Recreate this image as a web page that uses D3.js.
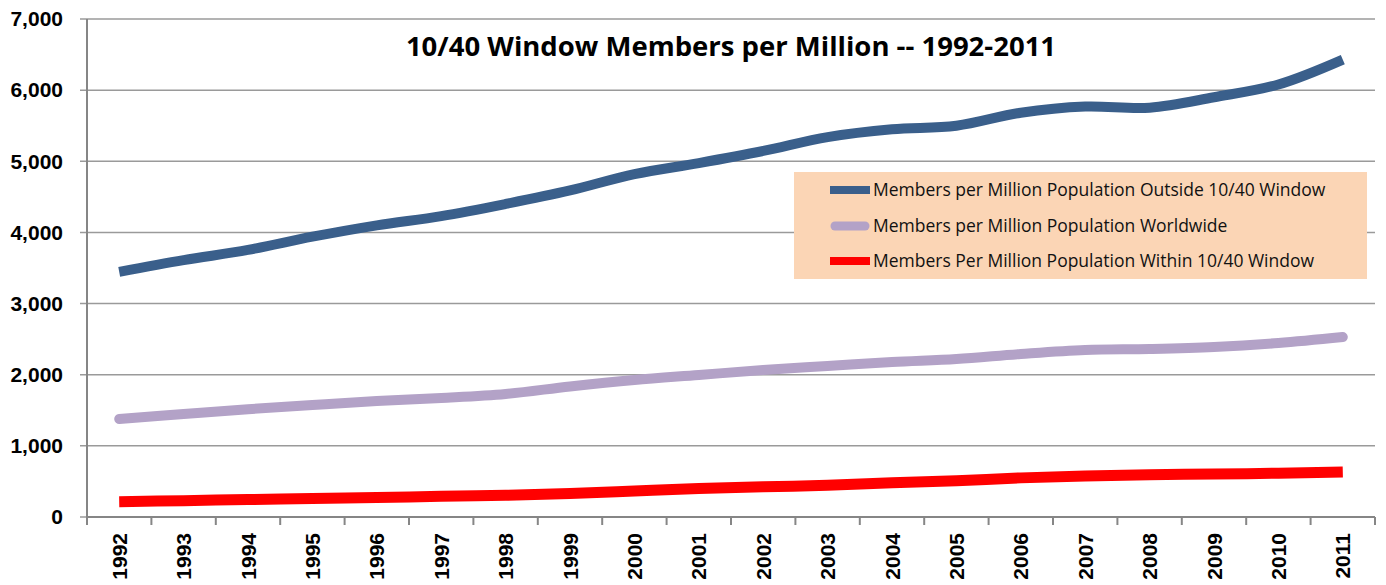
<!DOCTYPE html>
<html><head><meta charset="utf-8">
<script src="https://cdn.jsdelivr.net/npm/d3@7"></script>
<style>body{margin:0;background:#fff}svg{display:block}</style>
</head><body>
<svg id="c" width="1386" height="585"></svg>
<script>
const years = ["1992","1993","1994","1995","1996","1997","1998","1999","2000","2001","2002","2003","2004","2005","2006","2007","2008","2009","2010","2011"];
const outside = [3446,3610,3755,3940,4100,4230,4400,4590,4820,4975,5145,5340,5450,5500,5683,5770,5754,5900,6080,6430];
const worldwide = [1378,1448,1515,1574,1630,1673,1729,1835,1926,1996,2066,2122,2179,2221,2291,2347,2362,2390,2446,2530];
const within = [215,230,245,260,275,290,305,330,365,400,425,445,480,510,550,575,595,605,615,633];
const yTicks = [0,1000,2000,3000,4000,5000,6000,7000];
const seriesNames = ["Members per Million Population Outside 10/40 Window","Members per Million Population Worldwide","Members Per Million Population Within 10/40 Window"];

const svg = d3.select("#c");
const L=87,R=1375,T=19,B=517;
const x = d3.scaleBand().domain(years).range([L,R]);
const y = d3.scaleLinear().domain([0,7000]).range([B,T]);

// gridlines
svg.append("g").selectAll("line").data(yTicks).join("line")
 .attr("x1",L-7).attr("x2",R).attr("y1",d=>y(d)).attr("y2",d=>y(d))
 .attr("stroke","#9a9a9a").attr("stroke-width",1.5);

// y axis
const ya = svg.append("g").attr("transform",`translate(${L},0)`).call(d3.axisLeft(y).tickValues(yTicks).tickSize(0).tickPadding(24).tickFormat(d3.format(",")));
ya.select(".domain").remove();
ya.selectAll("text").attr("font-family","Liberation Sans, Arial, sans-serif").attr("font-weight","bold").attr("font-size",21).attr("fill","#000");
svg.append("line").attr("x1",L).attr("x2",L).attr("y1",T).attr("y2",B+8).attr("stroke","#868686").attr("stroke-width",2);

// x axis
svg.append("line").attr("x1",L).attr("x2",R).attr("y1",B).attr("y2",B).attr("stroke","#868686").attr("stroke-width",2);
const edges = years.map(d=>x(d)).concat([R]);
svg.append("g").selectAll("line").data(edges).join("line")
 .attr("x1",d=>d).attr("x2",d=>d).attr("y1",B).attr("y2",B+8).attr("stroke","#868686").attr("stroke-width",2);
svg.append("g").selectAll("text").data(years).join("text")
 .attr("transform",d=>`translate(${x(d)+x.bandwidth()/2+7.5},533) rotate(-90)`)
 .attr("text-anchor","end").attr("font-family","Liberation Sans, Arial, sans-serif").attr("font-weight","bold").attr("font-size",21).text(d=>d);

// lines
const cx = d=>x(d)+x.bandwidth()/2;
const line = d3.line().x((d,i)=>cx(years[i])).y(d=>y(d)).curve(d3.curveCatmullRom.alpha(0.5));
const styles = [
 {data:outside,color:"#3A5F8B",w:10,cap:"butt"},
 {data:worldwide,color:"#B3A2C7",w:10,cap:"round"},
 {data:within,color:"#FF0000",w:11,cap:"butt"}];
svg.append("g").selectAll("path").data(styles).join("path")
 .attr("d",d=>line(d.data)).attr("fill","none").attr("stroke",d=>d.color).attr("stroke-width",d=>d.w).attr("stroke-linecap",d=>d.cap).attr("stroke-linejoin","round");

// title
svg.append("text").attr("x",731).attr("y",56).attr("text-anchor","middle")
 .attr("font-family","Open Sans, sans-serif").attr("font-weight","bold").attr("font-size",27.5).text("10/40 Window Members per Million -- 1992-2011");

// legend
const lg = svg.append("g");
lg.append("rect").attr("x",794).attr("y",172).attr("width",573).attr("height",107).attr("fill","#FBD5B5");
const rows=[190,226,261];
styles.forEach((s,i)=>{
  lg.append("line").attr("x1",s.cap==="round"?835:830).attr("x2",s.cap==="round"?865:870).attr("y1",rows[i]).attr("y2",rows[i]).attr("stroke",s.color).attr("stroke-width",s.cap==="round"?9:8).attr("stroke-linecap",s.cap);
  lg.append("text").attr("x",873).attr("y",rows[i]+6).attr("font-family","Open Sans, sans-serif").attr("font-size",17.5).attr("fill","#111").text(seriesNames[i]);
});
</script>
</body></html>
